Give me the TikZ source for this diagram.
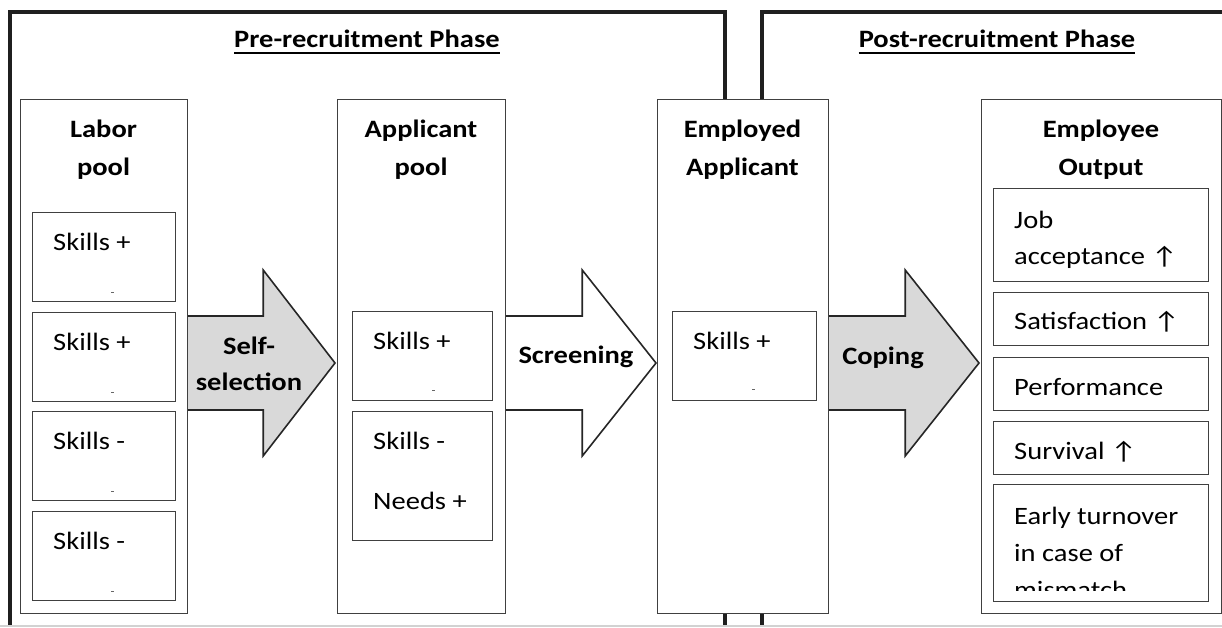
\documentclass[tikz,border=0pt]{standalone}
\usepackage{fontspec}
\setmainfont{Carlito}[FakeStretch=1.14]
\usetikzlibrary{calc,positioning}
\definecolor{boxline}{HTML}{404040}
\definecolor{arrowfill}{HTML}{D9D9D9}
\tikzset{frame/.style={line width=3.5pt, draw=black!88}, pool/.style={draw=boxline, fill=white, line width=1.2pt, anchor=north west, inner sep=0pt}, item/.style={draw=boxline, line width=1.2pt, anchor=north west, inner sep=0pt}, head/.style={font=\fontsize{25}{38}\selectfont\bfseries, align=center, inner sep=0pt, anchor=base}, txt/.style={anchor=base west, inner sep=0pt, align=left}, blockarrow/.style={draw=black!85, line width=1.6pt, line join=miter}, tick/.style={draw=black!60, line width=0.8pt}}

\begin{document}
\begin{tikzpicture}[x=1pt, y=-1pt, font=\fontsize{25}{38}\selectfont]
    \useasboundingbox (0,0) rectangle (1222,627);
    % phase frames
    \draw[frame] (10,625) |- (725,12) -- (725,625);
    \draw[frame] (762,625) |- (1224,12);
    \draw[gray!35, line width=1.5pt] (0,626) -- (1222,626);
    \node[head] (pre) at (367,47) {Pre-recruitment Phase};
    \node[head] (post) at (997,47) {Post-recruitment Phase};
    \draw[line width=2pt] ([yshift=-6pt]pre.base west) -- ([yshift=-6pt]pre.base east);
    \draw[line width=2pt] ([yshift=-6pt]post.base west) -- ([yshift=-6pt]post.base east);
    % pools
    \node[pool, minimum width=167pt, minimum height=514pt] (labor) at (20,99) {};
    \node[pool, minimum width=168pt, minimum height=514pt] (app) at (337,99) {};
    \node[pool, minimum width=171pt, minimum height=514pt] (empl) at (657,99) {};
    \node[pool, minimum width=240pt, minimum height=514pt] (out) at (981,99) {};
    \node[head] (laborT) at (103.5,175) {Labor\\pool};
    \node[head] (appT) at (421,175) {Applicant\\pool};
    \node[head] (emplT) at (742.5,175) {Employed\\Applicant};
    \node[head] (outT) at (1101,175) {Employee\\Output};
    % labor pool
    \node[item, minimum width=143pt, minimum height=89pt] (l1) at (32,212) {};
    \node[item, minimum width=143pt, minimum height=89pt] (l2) at (32,312) {};
    \node[item, minimum width=143pt, minimum height=89pt] (l3) at (32,411) {};
    \node[item, minimum width=143pt, minimum height=89pt] (l4) at (32,511) {};
    \node[txt] (l1t) at ([shift={(21,38)}]l1.north west) {Skills +};
    \node[txt] (l2t) at ([shift={(21,38)}]l2.north west) {Skills +};
    \node[txt] (l3t) at ([shift={(21,38)}]l3.north west) {Skills -};
    \node[txt] (l4t) at ([shift={(21,38)}]l4.north west) {Skills -};
    \draw[tick] ([shift={(79,80)}]l1.north west) -- ++(3,0);
    \draw[tick] ([shift={(79,80)}]l2.north west) -- ++(3,0);
    \draw[tick] ([shift={(79,80)}]l3.north west) -- ++(3,0);
    \draw[tick] ([shift={(79,80)}]l4.north west) -- ++(3,0);
    % applicant pool
    \node[item, minimum width=140pt, minimum height=89pt] (a1) at (352,311) {};
    \node[item, minimum width=140pt, minimum height=129pt] (a2) at (352,411) {};
    \node[txt] (a1t) at ([shift={(21,38)}]a1.north west) {Skills +};
    \node[txt] (a2t) at ([shift={(21,98)}]a2.north west) {Skills -\\[22pt]Needs +};
    \draw[tick] ([shift={(80,79)}]a1.north west) -- ++(3,0);
    % employed applicant
    \node[item, minimum width=144pt, minimum height=89pt] (e1) at (672,311) {};
    \node[txt] (e1t) at ([shift={(21,38)}]e1.north west) {Skills +};
    \draw[tick] ([shift={(80,78)}]e1.north west) -- ++(3,0);
    % employee output
    \node[item, minimum width=215pt, minimum height=93pt] (o1) at (993,188) {};
    \node[item, minimum width=215pt, minimum height=53pt] (o2) at (993,292) {};
    \node[item, minimum width=215pt, minimum height=53pt] (o3) at (993,357) {};
    \node[item, minimum width=215pt, minimum height=53pt] (o4) at (993,421) {};
    \node[item, minimum width=215pt, minimum height=117pt] (o5) at (993,484) {};
    \node[txt] (o1t) at ([shift={(21,76)}]o1.north west) {Job\\[-2pt]acceptance ↑};
    \node[txt] (o2t) at ([shift={(21,37)}]o2.north west) {Satisfaction ↑};
    \node[txt] (o3t) at ([shift={(21,38)}]o3.north west) {Performance};
    \node[txt] (o4t) at ([shift={(21,38)}]o4.north west) {Survival ↑};
    \begin{scope}
        \clip (o5.north west) rectangle ([yshift=12pt]o5.south east);
        \node[txt] (o5t) at ([shift={(21,114)}]o5.north west) {Early turnover\\[-1pt]in case of\\[-1pt]mismatch};
    \end{scope}
    % block arrows
    \coordinate (mid) at (0,363);
    \filldraw[blockarrow, fill=arrowfill] ($(labor.east |- mid)+(0,-47)$) -- ++(75,0) -- ++(0,-46) -- ($(app.west |- mid)+(-2,0)$) -- ($(labor.east |- mid)+(75,93)$) -- ++(0,-46) -- ++(-75,0);
    \filldraw[blockarrow, fill=white] ($(app.east |- mid)+(0,-47)$) -- ++(76,0) -- ++(0,-46) -- ($(empl.west |- mid)+(-1,0)$) -- ($(app.east |- mid)+(76,93)$) -- ++(0,-46) -- ++(-76,0);
    \filldraw[blockarrow, fill=arrowfill] ($(empl.east |- mid)+(0,-47)$) -- ++(76,0) -- ++(0,-46) -- ($(out.west |- mid)+(-2,0)$) -- ($(empl.east |- mid)+(76,93)$) -- ++(0,-46) -- ++(-76,0);
    \node[head] (selfT) at (249,390) {Self-\\[-2pt]selection};
    \node[head] (screenT) at (576,363) {Screening};
    \node[head] (copeT) at (883,364) {Coping};
\end{tikzpicture}
\end{document}
